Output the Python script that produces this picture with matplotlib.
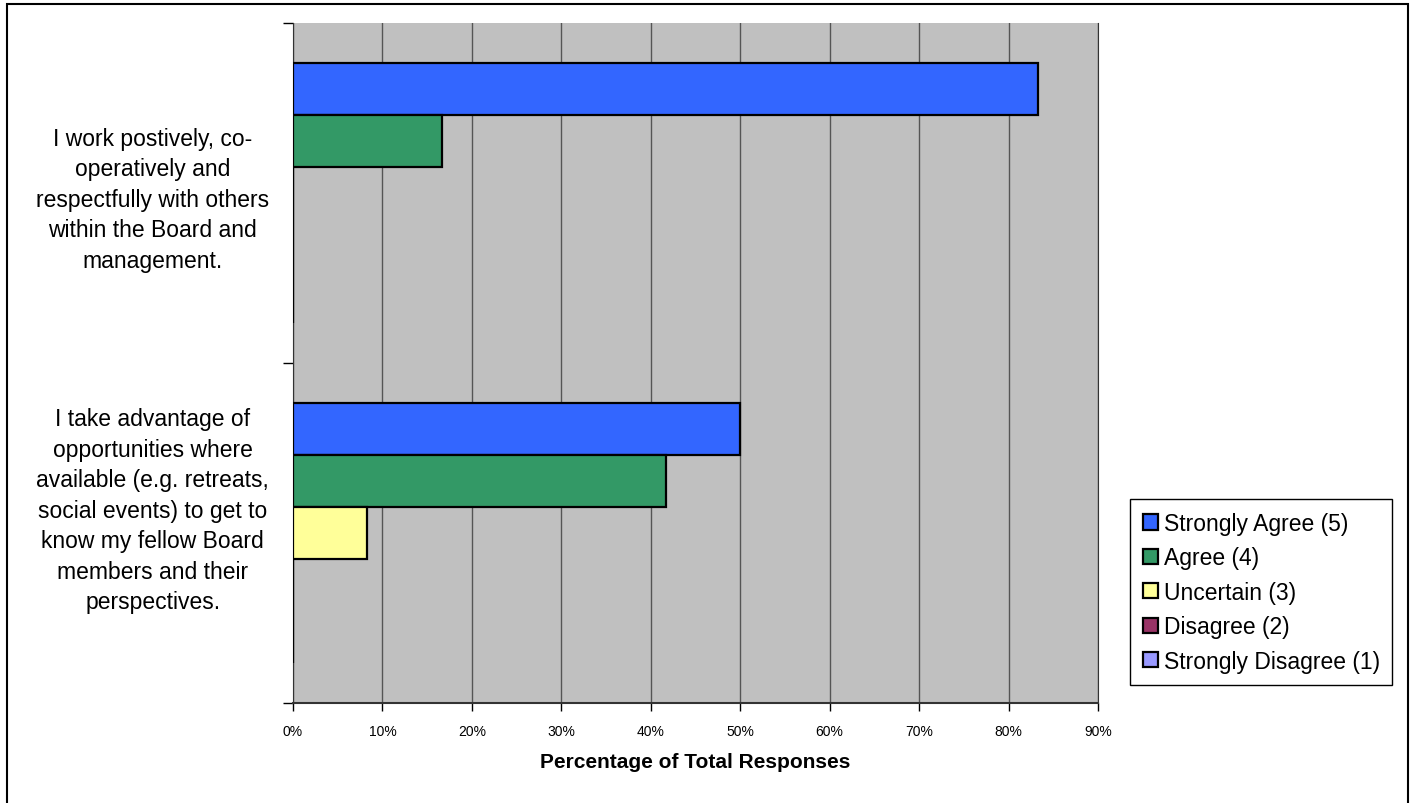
import numpy as np
import matplotlib
matplotlib.use("Agg")
from matplotlib import pyplot as plt
from matplotlib.patches import Rectangle
from matplotlib.transforms import ScaledTranslation

plt.rcParams['font.family'] = ['Liberation Sans', 'DejaVu Sans']

categories = [
    "I work postively, co-\noperatively and\nrespectfully with others\nwithin the Board and\nmanagement.",
    "I take advantage of\nopportunities where\navailable (e.g. retreats,\nsocial events) to get to\nknow my fellow Board\nmembers and their\nperspectives.",
]
series_names = ["Strongly Agree (5)", "Agree (4)", "Uncertain (3)",
                "Disagree (2)", "Strongly Disagree (1)"]
strongly_agree = [83.3, 50.0]
agree = [16.7, 41.7]
uncertain = [0.0, 8.3]
disagree = [0.0, 0.0]
strongly_disagree = [0.0, 0.0]
x_ticks = [0, 10, 20, 30, 40, 50, 60, 70, 80, 90]

colors = ['#3366FF', '#339966', '#FFFF99', '#993366', '#9999FF']
values = [strongly_agree, agree, uncertain, disagree, strongly_disagree]

fig = plt.figure(figsize=(14.14, 8.04), dpi=100)
ax = fig.add_axes([0.2072, 0.1244, 0.5693, 0.8457])
ax.set_facecolor('#C0C0C0')

# outer frame of the chart
fig.patches.append(Rectangle((7/1414, -0.05), 1401/1414, 1.05 - 5/804,
                             transform=fig.transFigure, fill=False,
                             edgecolor='black', linewidth=1.5))

n = len(series_names)
bh = 0.153
base = np.arange(len(categories)) + 0.5
for i, (name, vals, c) in enumerate(zip(series_names, values, colors)):
    y = base - 2 * bh + i * bh
    ax.barh(y, vals, height=bh, color=c, edgecolor='black',
            linewidth=1.6, label=name, zorder=3)

ax.set_xlim(0, 90)
ax.set_ylim(len(categories), 0)
ax.set_xticks(x_ticks)
ax.set_xticklabels([f"{t}%" for t in x_ticks], fontsize=10)
ax.xaxis.grid(True, color='#555555', linewidth=1.0, zorder=1)
ax.set_axisbelow(True)
ax.tick_params(axis='x', direction='out', length=6, width=1, pad=9)

ax.set_yticks([0, 1, 2])
ax.set_yticklabels([])
ax.tick_params(axis='y', which='major', direction='out', length=7, width=1)
ax.set_yticks(base, minor=True)
ax.set_yticklabels(categories, minor=True, fontsize=16.5, ha='center',
                   multialignment='center', linespacing=1.42)
ax.tick_params(axis='y', which='minor', length=0, pad=101)
lbl = ax.get_yticklabels(minor=True)[1]
lbl.set_transform(lbl.get_transform() + ScaledTranslation(0, 29/100, fig.dpi_scale_trans))

ax.spines['top'].set_visible(False)
ax.spines['right'].set_color('#333333')
ax.spines['left'].set_color('#333333')
ax.spines['bottom'].set_color('#333333')
ax.spines['bottom'].set_linewidth(1.5)

ax.set_xlabel("Percentage of Total Responses", fontsize=15, fontweight='bold', labelpad=10)

leg = fig.legend(loc='center', bbox_to_anchor=(0.892, 0.262), fontsize=16.5,
                 frameon=True, fancybox=False, edgecolor='black', framealpha=1,
                 handlelength=0.65, handleheight=0.65, handletextpad=0.25,
                 labelspacing=0.5, borderpad=0.55, borderaxespad=0)
leg.get_frame().set_linewidth(1.0)

fig.savefig("out.png", dpi=100)
